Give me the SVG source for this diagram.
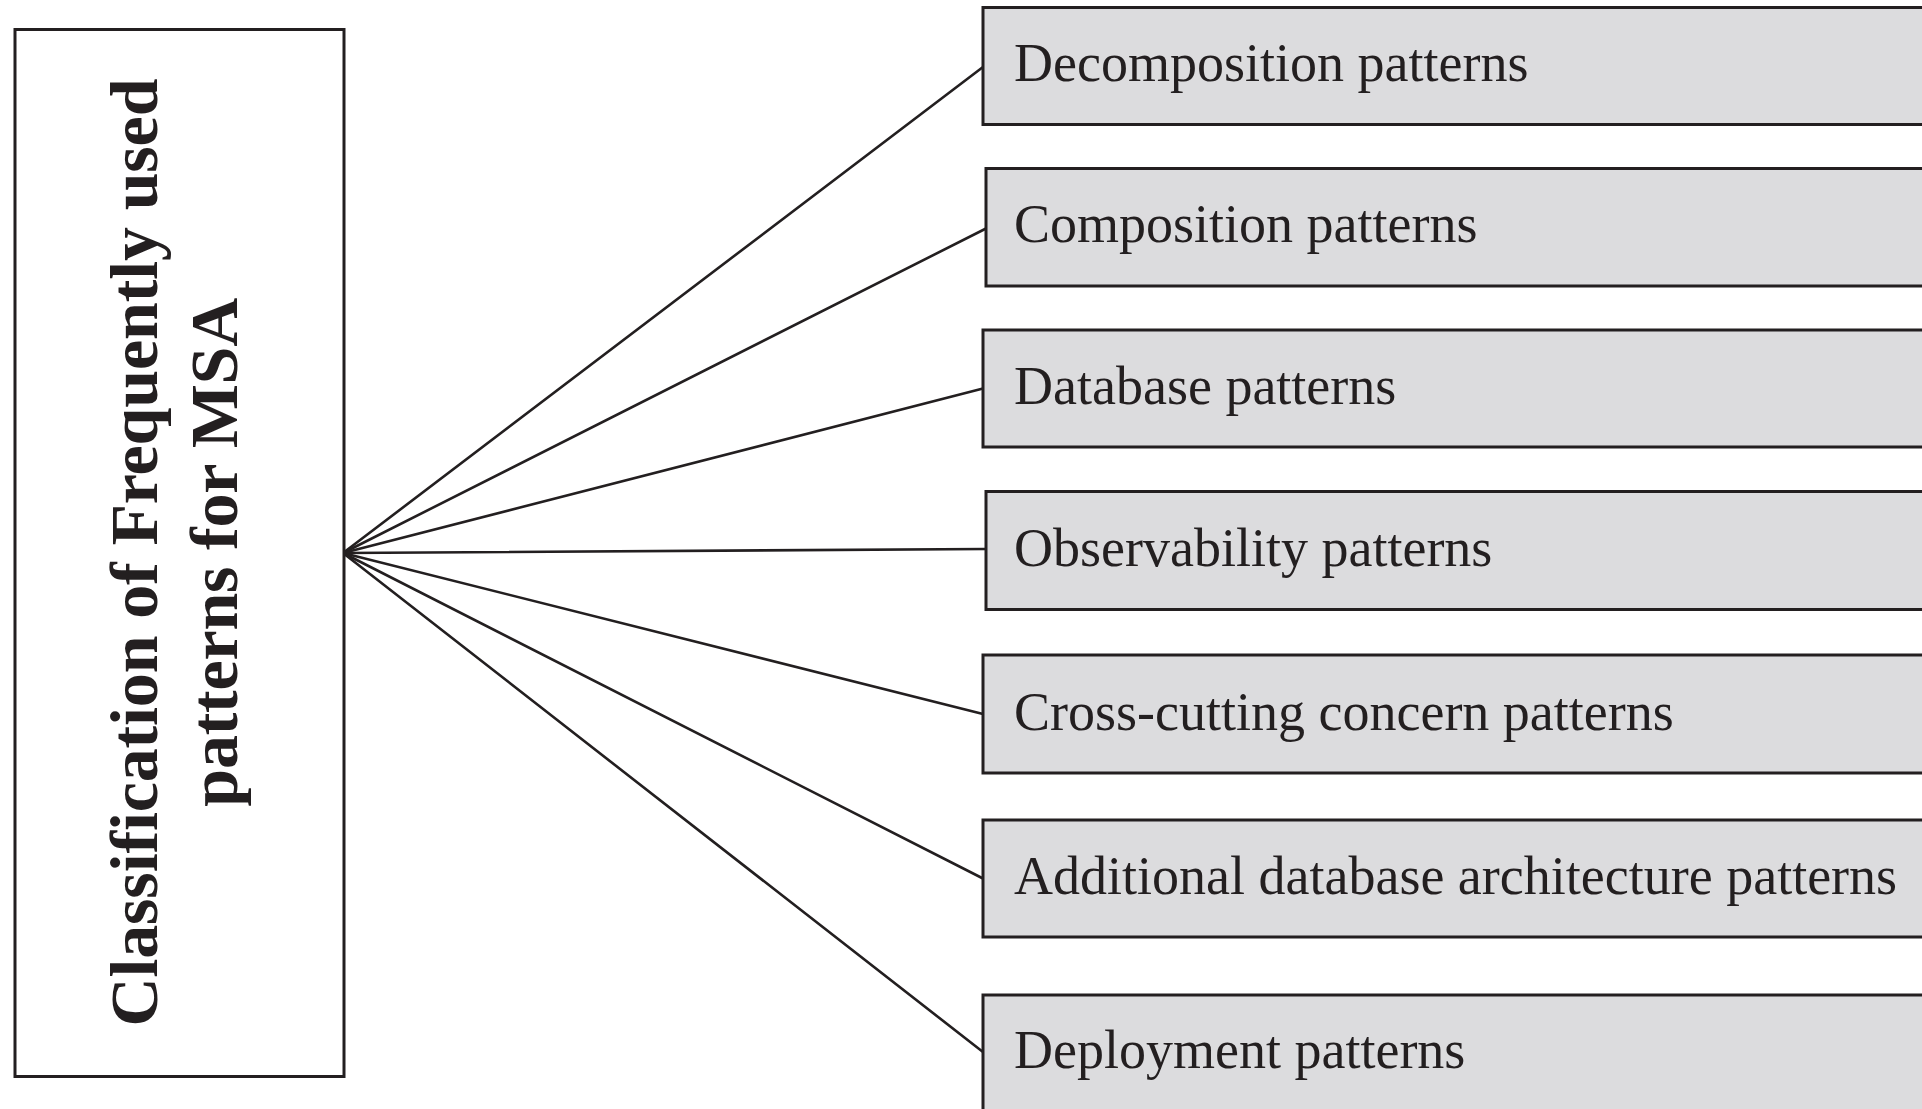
<svg xmlns="http://www.w3.org/2000/svg" width="1922" height="1109" viewBox="0 0 1922 1109">
  <style>
    .root-box { fill: #ffffff; stroke: #231f20; stroke-width: 3; }
    .leaf-box { fill: #dcdcde; stroke: #231f20; stroke-width: 3; }
    .root-label { font-family: "Liberation Serif", "Times New Roman", serif; font-weight: bold; font-size: 68px; fill: #231f20; text-anchor: middle; }
    .leaf-label { font-family: "Liberation Serif", "Times New Roman", serif; font-size: 54px; fill: #231f20; }
    .edge { stroke: #231f20; stroke-width: 2.6; fill: none; stroke-linecap: round; }
  </style>
  <rect width="1922" height="1109" fill="#ffffff"/>

  <!-- connectors fanning out from the root box -->
  <g id="connectors">
    <line class="edge" x1="343" y1="553" x2="983" y2="67"/>
    <line class="edge" x1="343" y1="553" x2="986" y2="228.5"/>
    <line class="edge" x1="343" y1="553" x2="983" y2="388.5"/>
    <line class="edge" x1="343" y1="553" x2="986" y2="549"/>
    <line class="edge" x1="343" y1="553" x2="983" y2="714"/>
    <line class="edge" x1="343" y1="553" x2="983" y2="878.5"/>
    <line class="edge" x1="343" y1="553" x2="983" y2="1052"/>
  </g>

  <!-- root node: vertical title -->
  <g id="root">
    <rect class="root-box" x="15" y="29.5" width="329" height="1047"/>
    <text class="root-label" transform="translate(156.5,552.5) rotate(-90)" textLength="948">Classification of Frequently used</text>
    <text class="root-label" transform="translate(237,552.2) rotate(-90)" textLength="509">patterns for MSA</text>
  </g>

  <g id="decomposition">
    <rect class="leaf-box" x="983" y="7.5" width="960" height="117"/>
    <text class="leaf-label" x="1014" y="81">Decomposition patterns</text>
  </g>
  <g id="composition">
    <rect class="leaf-box" x="986" y="168.5" width="960" height="117.5"/>
    <text class="leaf-label" x="1014" y="241.5">Composition patterns</text>
  </g>
  <g id="database">
    <rect class="leaf-box" x="983" y="330" width="960" height="117"/>
    <text class="leaf-label" x="1014" y="404">Database patterns</text>
  </g>
  <g id="observability">
    <rect class="leaf-box" x="986" y="491.5" width="960" height="118"/>
    <text class="leaf-label" x="1014" y="565.5">Observability patterns</text>
  </g>
  <g id="cross-cutting">
    <rect class="leaf-box" x="983" y="655" width="960" height="118"/>
    <text class="leaf-label" x="1014" y="730">Cross-cutting concern patterns</text>
  </g>
  <g id="additional-database">
    <rect class="leaf-box" x="983" y="820" width="960" height="117"/>
    <text class="leaf-label" x="1014" y="894">Additional database architecture patterns</text>
  </g>
  <g id="deployment">
    <rect class="leaf-box" x="983" y="995" width="960" height="130"/>
    <text class="leaf-label" x="1014" y="1068">Deployment patterns</text>
  </g>
</svg>
